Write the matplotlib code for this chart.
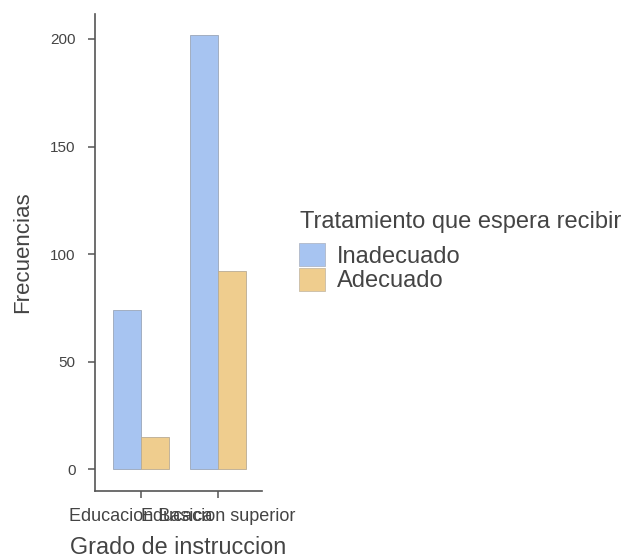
import matplotlib
matplotlib.use("Agg")
import matplotlib.pyplot as plt
from matplotlib.patches import Patch
import numpy as np

categories = ["Educacion Basica", "Educacion superior"]
series_names = ["Inadecuado", "Adecuado"]
legend_title = "Tratamiento que espera recibir"
inadecuado = [74, 202]
adecuado = [15, 92]
yticks = [0, 50, 100, 150, 200]
colors = ["#A7C4F1", "#EFCD8E"]

plt.rcParams['font.family'] = ['Liberation Sans', 'DejaVu Sans']

fig = plt.figure(figsize=(6.25, 5.59), dpi=100)
ax = fig.add_axes([95/625, 1-491/559, (262-95)/625, (491-14)/559])

x = np.arange(1, len(categories)+1)
w = 0.364
ax.bar(x - w/2, inadecuado, width=w, color=colors[0], edgecolor="#9aa6b8", linewidth=0.6)
ax.bar(x + w/2, adecuado, width=w, color=colors[1], edgecolor="#b8ab94", linewidth=0.6)

ax.set_xlim(0.403, 2.571)
ax.set_ylim(-10.1, 211.6)
ax.set_xticks(x)
ax.set_xticklabels(categories, fontsize=13)
ax.set_yticks(yticks)
ax.set_yticklabels([str(v) for v in yticks], fontsize=11)
for s in ["top", "right"]:
    ax.spines[s].set_visible(False)
for s in ["left", "bottom"]:
    ax.spines[s].set_color("#555555")
    ax.spines[s].set_linewidth(1.2)
ax.tick_params(axis="both", colors="#555555", length=5, width=1.1, labelcolor="#444444")
ax.tick_params(axis="y", pad=9)
ax.tick_params(axis="x", pad=7)
ax.set_ylabel("Frecuencias", fontsize=16, color="#444444", labelpad=12)
ax.set_xlabel("Grado de instruccion", fontsize=16.8, color="#444444", labelpad=8)

fig.text(300/625, 1-222/559, legend_title, fontsize=17, color="#444444",
         ha="left", va="center")
handles = [Patch(facecolor=colors[0], edgecolor="#b0b8c8", linewidth=0.6),
           Patch(facecolor=colors[1], edgecolor="#c8bca6", linewidth=0.6)]
leg = fig.legend(handles, series_names,
                 loc="upper left", bbox_to_anchor=(299/625, 1-243/559), frameon=False,
                 fontsize=17, handlelength=1.12, handleheight=1.15,
                 handletextpad=0.5, labelspacing=0.0, borderaxespad=0, borderpad=0)
for t in leg.get_texts():
    t.set_color("#444444")

fig.savefig("out.png", dpi=100)
